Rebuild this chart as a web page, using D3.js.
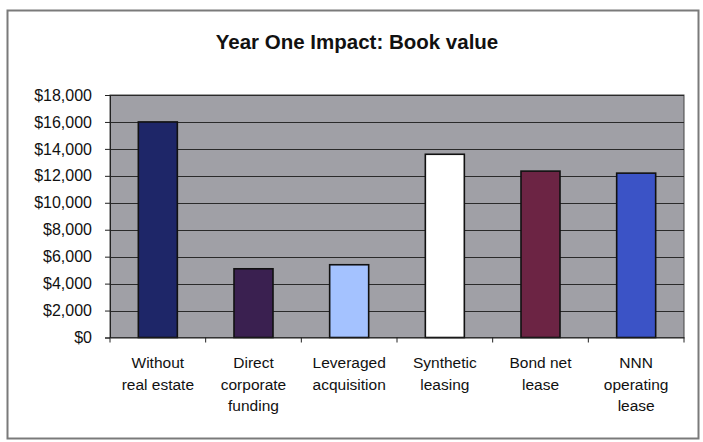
<!DOCTYPE html>
<html><head><meta charset="utf-8">
<script src="https://cdn.jsdelivr.net/npm/d3@7"></script>
<style>body{margin:0;background:#fff}svg{display:block}</style>
</head><body><svg id="c" width="703" height="442"></svg>
<script>
const categories = [["Without","real estate"],["Direct","corporate","funding"],["Leveraged","acquisition"],["Synthetic","leasing"],["Bond net","lease"],["NNN","operating","lease"]];
const values = [16000, 5100, 5400, 13600, 12350, 12200];
const barColors = ["#1e2668","#3a2050","#a4c2ff","#ffffff","#6c2444","#3b53c6"];
const yTicks = [0,2000,4000,6000,8000,10000,12000,14000,16000,18000];
const title = "Year One Impact: Book value";

const svg = d3.select("#c");
const font = "'Liberation Sans', Arial, sans-serif";
svg.append("rect").attr("x",7.5).attr("y",10.5).attr("width",691).attr("height",428)
  .attr("fill","#fff").attr("stroke","#7a7a7a").attr("stroke-width",2);

const m = {l:110, r:684, t:95, b:337.5};
const x = d3.scaleBand().domain(d3.range(values.length)).range([m.l,m.r]).paddingInner(0.6).paddingOuter(0.3);
const xb = d3.scaleBand().domain(d3.range(values.length)).range([m.l,m.r]);
const y = d3.scaleLinear().domain([0,18000]).range([m.b,m.t]);

svg.append("rect").attr("x",m.l).attr("y",m.t).attr("width",m.r-m.l).attr("height",m.b-m.t)
  .attr("fill","#a0a0a6").attr("stroke","#444").attr("stroke-width",1);

svg.append("g").selectAll("line").data(yTicks.filter(d=>d>0)).join("line")
  .attr("x1",m.l).attr("x2",m.r).attr("y1",d=>Math.round(y(d))+0.5).attr("y2",d=>Math.round(y(d))+0.5)
  .attr("stroke","#2a2a2a").attr("stroke-width",1);

svg.append("g").selectAll("rect").data(values).join("rect")
  .attr("x",(d,i)=>xb(i)+xb.bandwidth()/2-19.5).attr("width",39)
  .attr("y",d=>y(d)).attr("height",d=>m.b-y(d))
  .attr("fill",(d,i)=>barColors[i]).attr("stroke","#111").attr("stroke-width",1.6);

const ya = svg.append("g").attr("transform",`translate(${m.l},0)`)
  .call(d3.axisLeft(y).tickValues(yTicks).tickSize(5).tickPadding(13).tickFormat(d=>"$"+d3.format(",")(d)));
ya.select(".domain").attr("stroke","#222");
ya.selectAll(".tick line").attr("stroke","#222");
ya.selectAll("text").attr("font-family",font).attr("font-size",16).attr("fill","#111");

const xa = svg.append("g").attr("transform",`translate(0,${m.b})`)
  .call(d3.axisBottom(xb).tickSize(0).tickFormat(""));
xa.select(".domain").attr("stroke","#222");
svg.append("g").selectAll("line").data(d3.range(values.length+1)).join("line")
  .attr("x1",i=>i<values.length?xb(i):m.r).attr("x2",i=>i<values.length?xb(i):m.r)
  .attr("y1",m.b).attr("y2",m.b+5).attr("stroke","#222");

const lab = svg.append("g").selectAll("text").data(categories).join("text")
  .attr("x",(d,i)=>xb(i)+xb.bandwidth()/2).attr("y",368).attr("text-anchor","middle")
  .attr("font-family",font).attr("font-size",15.5).attr("fill","#111");
lab.selectAll("tspan").data(d=>d).join("tspan")
  .attr("x",function(){return this.parentNode.getAttribute("x");})
  .attr("dy",(d,i)=>i===0?0:21.5).text(d=>d);

svg.append("text").attr("x",357).attr("y",49).attr("text-anchor","middle")
  .attr("font-family",font).attr("font-weight","bold").attr("font-size",20.5).attr("fill","#111").text(title);
</script></body></html>
